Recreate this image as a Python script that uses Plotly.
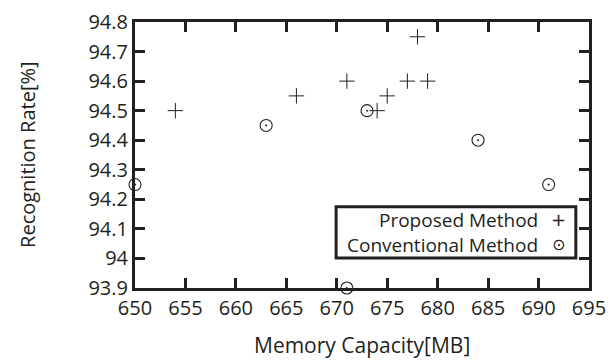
import plotly.graph_objects as go

proposed_x = [654, 666, 671, 674, 675, 677, 678, 679]
proposed_y = [94.5, 94.55, 94.6, 94.5, 94.55, 94.6, 94.75, 94.6]
conventional_x = [650, 663, 671, 673, 684, 691]
conventional_y = [94.25, 94.45, 93.9, 94.5, 94.4, 94.25]

x_ticks = [650, 655, 660, 665, 670, 675, 680, 685, 690, 695]
y_ticks = [93.9, 94.0, 94.1, 94.2, 94.3, 94.4, 94.5, 94.6, 94.7, 94.8]
y_tick_labels = ["93.9", "94", "94.1", "94.2", "94.3", "94.4", "94.5", "94.6", "94.7", "94.8"]

INK = "#231f20"
FONT = "Open Sans"

fig = go.Figure()
fig.add_trace(go.Scatter(
    x=proposed_x, y=proposed_y, mode="markers", name="Proposed Method",
    marker=dict(symbol="cross-thin-open", size=11, color=INK, line=dict(width=1, color=INK)),
    cliponaxis=False, showlegend=False))
fig.add_trace(go.Scatter(
    x=conventional_x, y=conventional_y, mode="markers", name="Conventional Method",
    marker=dict(symbol="circle-open-dot", size=12, color=INK, line=dict(width=1.1, color=INK)),
    cliponaxis=False, showlegend=False))

axis_common = dict(
    showline=True, linewidth=3, linecolor=INK, mirror="allticks",
    ticks="inside", ticklen=10, tickwidth=2.5, tickcolor=INK,
    showgrid=False, zeroline=False, automargin=False,
    tickfont=dict(family=FONT, size=20, color=INK),
)

fig.update_xaxes(range=[650, 695], tickvals=x_ticks, **axis_common)
fig.update_yaxes(range=[93.9, 94.8], tickvals=y_ticks, ticktext=y_tick_labels, **axis_common)

# axis titles
fig.add_annotation(xref="paper", yref="paper", x=0.5, y=-0.215, xanchor="center", yanchor="middle",
                   text="Memory Capacity[MB]", showarrow=False, font=dict(family=FONT, size=21, color=INK))
fig.add_annotation(xref="paper", yref="paper", x=-0.238, y=0.5, xanchor="center", yanchor="middle",
                   textangle=-90, text="Recognition Rate[%]", showarrow=False,
                   font=dict(family=FONT, size=20, color=INK))

# legend box
fig.add_shape(type="rect", xref="paper", yref="paper", x0=0.443, x1=0.971, y0=0.113, y1=0.305,
              line=dict(color=INK, width=3), fillcolor="white", layer="above")
fig.add_annotation(xref="paper", yref="paper", x=0.893, y=0.257, xanchor="right", yanchor="middle",
                   text="Proposed Method", showarrow=False, font=dict(family=FONT, size=19, color=INK))
fig.add_annotation(xref="paper", yref="paper", x=0.893, y=0.163, xanchor="right", yanchor="middle",
                   text="Conventional Method", showarrow=False, font=dict(family=FONT, size=19, color=INK))
fig.add_annotation(xref="paper", yref="paper", x=0.933, y=0.257, xanchor="center", yanchor="middle",
                   text="+", showarrow=False, font=dict(family="DejaVu Sans", size=18, color=INK))
fig.add_annotation(xref="paper", yref="paper", x=0.933, y=0.163, xanchor="center", yanchor="middle",
                   text="⊙", showarrow=False, font=dict(family="DejaVu Sans", size=16, color=INK))

fig.update_layout(
    width=611, height=361,
    margin=dict(l=135, r=22, t=22, b=73),
    plot_bgcolor="white", paper_bgcolor="white",
    showlegend=False,
)

fig.write_html("out.html", config={"displayModeBar": False},
               post_script="document.body.style.margin='0';")
